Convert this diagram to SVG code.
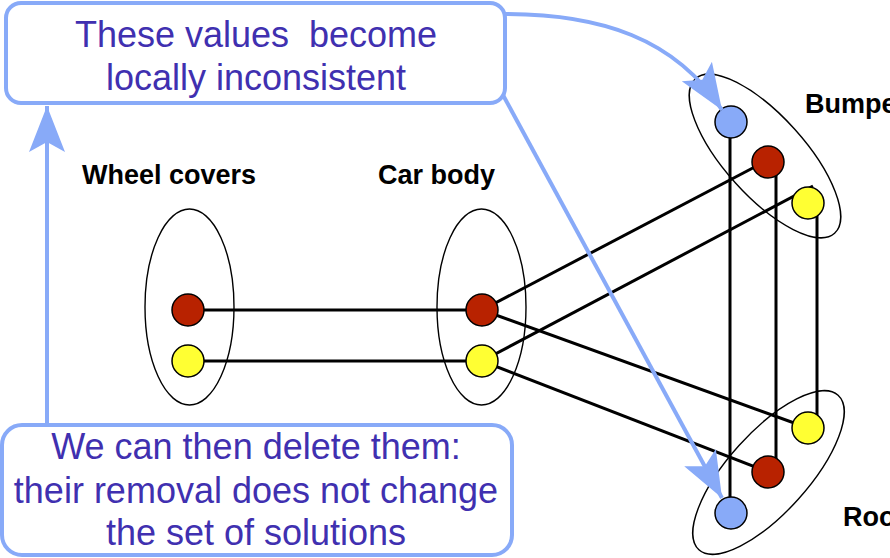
<svg xmlns="http://www.w3.org/2000/svg" width="890" height="558" viewBox="0 0 890 558">
<defs>
<style>
.ell{fill:none;stroke:#000;stroke-width:1.4}
.edge{stroke:#000;stroke-width:3;fill:none}
.red{fill:#B82200;stroke:#000;stroke-width:1.5}
.yel{fill:#FFFF33;stroke:#000;stroke-width:1.5}
.blu{fill:#88AAF8;stroke:#000;stroke-width:1.5}
.lbl{font-family:"Liberation Sans",Arial,sans-serif;font-weight:bold;font-size:27px;fill:#000}
.call{fill:#fff;stroke:#88AAF8;stroke-width:4}
.ctxt{font-family:"Liberation Sans",Arial,sans-serif;font-size:36px;fill:#4030B0;text-anchor:middle;white-space:pre}
.arr{fill:none;stroke:#88AAF8;stroke-width:4;marker-end:url(#ah)}
</style>
<marker id="ah" markerUnits="userSpaceOnUse" markerWidth="60" markerHeight="60" viewBox="-50 -25 60 50" refX="0" refY="0" orient="auto">
<path d="M0,0 L-46,-18 L-36,0 L-46,18 Z" fill="#88AAF8"/>
</marker>
</defs>
<g id="edges">
<line class="edge" x1="188" y1="310" x2="482" y2="310"/>
<line class="edge" x1="188" y1="361" x2="482" y2="361"/>
<line class="edge" x1="482" y1="310" x2="768" y2="160"/>
<line class="edge" x1="482" y1="361" x2="813" y2="186"/>
<line class="edge" x1="482" y1="310" x2="808" y2="428"/>
<line class="edge" x1="482" y1="361" x2="768" y2="472"/>
<line class="edge" x1="730" y1="122" x2="730" y2="513"/>
<line class="edge" x1="776" y1="162" x2="776" y2="472"/>
<line class="edge" x1="817" y1="203" x2="817" y2="428"/>
</g>
<g id="wheel-covers">
<ellipse class="ell" cx="189.5" cy="307" rx="44.5" ry="98"/>
<circle class="red" cx="188" cy="310" r="16"/>
<circle class="yel" cx="188" cy="361" r="16"/>
<text class="lbl" x="82" y="184">Wheel covers</text>
</g>
<g id="car-body">
<ellipse class="ell" cx="481.5" cy="307" rx="44.5" ry="98"/>
<circle class="red" cx="482" cy="310" r="16"/>
<circle class="yel" cx="482" cy="361" r="16"/>
<text class="lbl" x="378" y="184">Car body</text>
</g>
<g id="bumpers">
<ellipse class="ell" cx="765" cy="156" rx="104" ry="40" transform="rotate(48 765 156)"/>
<circle class="blu" cx="731" cy="122" r="16"/>
<circle class="red" cx="768" cy="162" r="16"/>
<circle class="yel" cx="808" cy="203" r="16"/>
<text class="lbl" x="805" y="113">Bumpers</text>
</g>
<g id="roof">
<ellipse class="ell" cx="768.5" cy="472.5" rx="104" ry="40" transform="rotate(-48 768.5 472.5)"/>
<circle class="yel" cx="808" cy="428" r="16"/>
<circle class="red" cx="768" cy="472" r="16"/>
<circle class="blu" cx="731" cy="513" r="16"/>
<text class="lbl" x="843" y="526">Roof</text>
</g>
<g id="callout-arrows">
<path class="arr" d="M505,14 C600,14 675,38 722,110"/>
<path class="arr" d="M503,95 L722,498"/>
<path class="arr" d="M47,425 L47,106"/>
</g>
<g id="callout-top">
<rect class="call" x="6" y="3" width="499" height="100" rx="15"/>
<text class="ctxt" x="256" y="47">These values  become</text>
<text class="ctxt" x="256" y="90">locally inconsistent</text>
</g>
<g id="callout-bottom">
<rect class="call" x="2" y="425" width="510" height="130" rx="20"/>
<text class="ctxt" x="256" y="459">We can then delete them:</text>
<text class="ctxt" x="256" y="503">their removal does not change</text>
<text class="ctxt" x="256" y="545">the set of solutions</text>
</g>
</svg>
